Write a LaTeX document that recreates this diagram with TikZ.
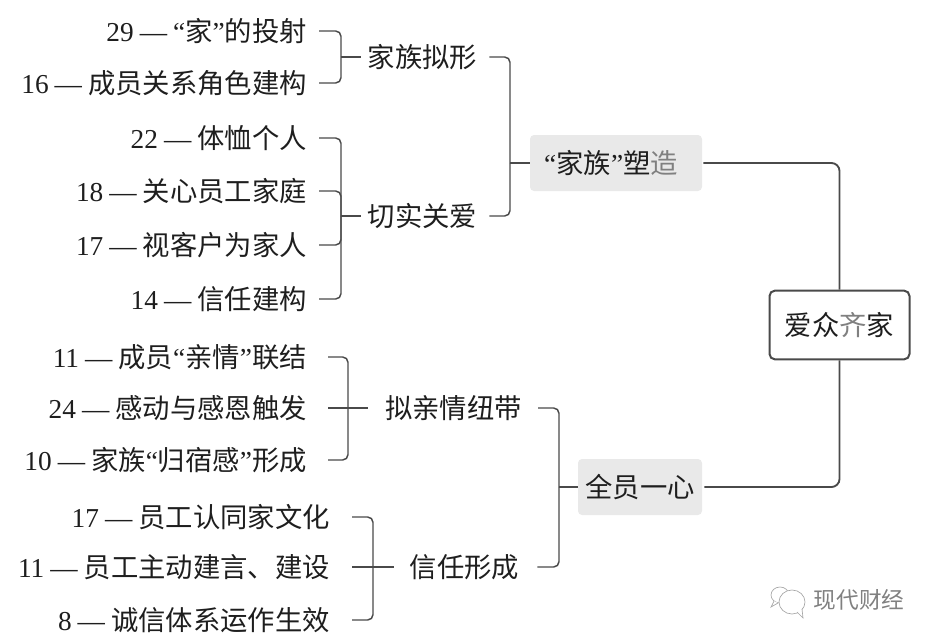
\documentclass[tikz,border=0pt]{standalone}
\usepackage{fontspec}
\setmainfont{Liberation Serif}
\newfontfamily\cj{Noto Sans CJK SC}
\newcommand\qt[1]{{\rmfamily “}#1{\rmfamily ”}}
\newcommand\lf[2]{#1\hspace{0.22em}—\hspace{0.22em}{\cj #2}}
\definecolor{ln}{HTML}{4A4A4A}
\definecolor{boxfill}{HTML}{E9E9E9}
\definecolor{ink}{HTML}{1E1E1E}
\tikzset{
  leaf/.style={anchor=east,inner sep=0pt,text=ink,font=\fontsize{20.5pt}{24pt}\selectfont},
  grp/.style={inner sep=0pt,text=ink,font=\fontsize{20.5pt}{24pt}\selectfont\cj},
  hub/.style={fill=boxfill,rounded corners=3pt,inner sep=0pt,text=ink,font=\fontsize{20.5pt}{24pt}\selectfont},
  rootbox/.style={draw=ln,line width=1.5pt,fill=white,rounded corners=4pt,inner sep=0pt,text=ink,font=\fontsize{20.5pt}{24pt}\selectfont\cj},
  conn/.style={draw=ln,line width=1.1pt,rounded corners=4pt},
  mainconn/.style={draw=ln,line width=1.4pt,rounded corners=6pt},
  wmicon/.style={draw=gray!70,line width=0.5pt,fill=white}
}
\begin{document}
\begin{tikzpicture}[x=0.75pt,y=-0.75pt]
\useasboundingbox (0,0) rectangle (935,642);
% leaves
\node[leaf] (a1) at (307,31) {\lf{29}{\qt{家}的投射}};
\node[leaf] (a2) at (307,83) {\lf{16}{成员关系角色建构}};
\node[leaf] (b1) at (307,138) {\lf{22}{体恤个人}};
\node[leaf] (b2) at (307,191) {\lf{18}{关心员工家庭}};
\node[leaf] (b3) at (307,245) {\lf{17}{视客户为家人}};
\node[leaf] (b4) at (307,299) {\lf{14}{信任建构}};
\node[leaf] (c1) at (307,357) {\lf{11}{成员\qt{亲情}联结}};
\node[leaf] (c2) at (307,408) {\lf{24}{感动与感恩触发}};
\node[leaf] (c3) at (307,460) {\lf{10}{家族\qt{归宿感}形成}};
\node[leaf] (d1) at (330,517) {\lf{17}{员工认同家文化}};
\node[leaf] (d2) at (330,567) {\lf{11}{员工主动建言、建设}};
\node[leaf] (d3) at (330,620) {\lf{8}{诚信体系运作生效}};
% groups
\node[grp] (ga) at (422.5,57) {家族拟形};
\node[grp] (gb) at (422.5,216) {切实关爱};
\node[grp] (gc) at (453.5,408) {拟亲情纽带};
\node[grp] (gd) at (464.5,567) {信任形成};
% hubs
\node[hub,minimum width=129pt,minimum height=42pt] (h1) at (616,163) {\qt{\cj 家族}{\cj 塑\textcolor{gray}{造}}\hspace*{7.5pt}};
\node[hub,minimum width=93pt,minimum height=42pt] (h2) at (640,487) {\cj 全员一心};
\node[rootbox,minimum width=105pt,minimum height=51.5pt] (root) at (839.5,325) {爱众\textcolor{gray}{齐}家};
% junctions
\coordinate (ja) at (341,57);
\coordinate (jb) at (341,216);
\coordinate (jc) at (348,408);
\coordinate (jd) at (373,567);
\coordinate (je) at (510,163);
\coordinate (jf) at (559,487);
% connectors
\foreach \n/\j in {a1/ja,a2/ja,b1/jb,b2/jb,b3/jb,b4/jb}{
  \draw[conn] ([xshift=9pt]\n.east) -| (\j);
}
\foreach \n/\j in {c1/jc,c3/jc}{
  \draw[conn] ([xshift=15.75pt]\n.east) -| (\j);
}
\foreach \n/\j in {d1/jd,d3/jd}{
  \draw[conn] ([xshift=16.5pt]\n.east) -| (\j);
}
\draw[conn] ([xshift=15.75pt]c2.east) -- ([xshift=-12.75pt]gc.west);
\draw[conn] ([xshift=16.5pt]d2.east) -- ([xshift=-12pt]gd.west);
\draw[conn] (ja) -- ([xshift=-5.25pt]ga.west);
\draw[conn] (jb) -- ([xshift=-5.25pt]gb.west);
\draw[conn] ([xshift=9pt]ga.east) -| (je);
\draw[conn] ([xshift=9pt]gb.east) -| (je);
\draw[conn] (je) -- (h1.west);
\draw[conn] ([xshift=12pt]gc.east) -| (jf);
\draw[conn] ([xshift=13.5pt]gd.east) -| (jf);
\draw[conn] (jf) -- (h2.west);
\draw[mainconn] ([xshift=0.75pt]h1.east) -| (root.north);
\draw[mainconn] (root.south) |- ([xshift=1.5pt]h2.east);
% watermark
\draw[wmicon] (780,595) ellipse (9 and 8);
\draw[wmicon] (774,601) -- (771,607) -- (778,603);
\draw[wmicon] (792,602) ellipse (13 and 12);
\draw[wmicon] (797,612) -- (803,618) -- (802,609);
\node[inner sep=0pt,text=gray,font=\fontsize{17pt}{20pt}\selectfont\cj] (wm) at (859,600) {现代财经};
\end{tikzpicture}
\end{document}
